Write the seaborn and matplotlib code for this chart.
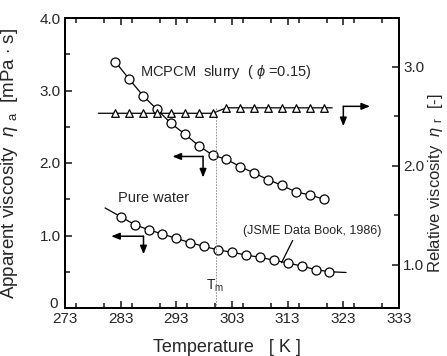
import numpy as np
import pandas as pd
import seaborn as sns
import matplotlib.pyplot as plt
import matplotlib.transforms as mtransforms
from matplotlib.ticker import MultipleLocator, FixedLocator, FixedFormatter

# Valores
temp_slurry = [282, 284.5, 287, 289.5, 292, 294.5, 297, 299.5, 302, 304.5, 307, 309.5, 312, 314.5, 317, 319.5]
eta_slurry = [3.40, 3.16, 2.93, 2.74, 2.55, 2.40, 2.24, 2.11, 2.05, 1.95, 1.86, 1.77, 1.69, 1.60, 1.56, 1.50]

temp_water = [283, 285.5, 288, 290.5, 293, 295.5, 298, 300.5, 303, 305.5, 308, 310.5, 313, 315.5, 318, 320.5]
eta_water = [1.26, 1.15, 1.08, 1.02, 0.96, 0.90, 0.85, 0.80, 0.77, 0.73, 0.70, 0.66, 0.62, 0.58, 0.53, 0.50]
water_fit_ends_T = [280.2, 323.5]
water_fit_ends_eta = [1.38, 0.49]

temp_rel = [282, 284.5, 287, 289.5, 292, 294.5, 297, 299.5, 302, 304.5, 307, 309.5, 312, 314.5, 317, 319.5]
eta_rel = [2.53, 2.53, 2.53, 2.53, 2.53, 2.53, 2.53, 2.53, 2.585, 2.585, 2.585, 2.585, 2.585, 2.585, 2.585, 2.585]
rel_line_ends_T = [279, 321]

T_m = 300.2

x_ticks = [273, 283, 293, 303, 313, 323, 333]
left_ticks = [0, 1.0, 2.0, 3.0, 4.0]
left_tick_labels = ["0", "1.0", "2.0", "3.0", "4.0"]
right_ticks = [1.0, 2.0, 3.0]
right_tick_labels = ["1.0", "2.0", "3.0"]

sns.set_style("ticks")
plt.rcParams['font.family'] = ['Liberation Sans', 'DejaVu Sans']
plt.rcParams['mathtext.fontset'] = 'custom'
plt.rcParams['mathtext.rm'] = 'Liberation Sans'
plt.rcParams['mathtext.it'] = 'Liberation Sans:italic'

fig = plt.figure(figsize=(4.47, 3.56), dpi=100)
ax = fig.add_axes([65/447, 1-308/356, 334/447, 290/356])
ax2 = ax.twinx()

# curva del agua (ajuste) y puntos
water_line = pd.DataFrame({"T": [water_fit_ends_T[0]] + temp_water + [water_fit_ends_T[1]],
                           "eta": [water_fit_ends_eta[0]] + eta_water + [water_fit_ends_eta[1]]})
sns.lineplot(data=water_line, x="T", y="eta", ax=ax, color="black", lw=0.9, zorder=2)
sns.scatterplot(x=temp_water, y=eta_water, ax=ax, marker="o", s=42, facecolor="white",
                edgecolor="black", linewidth=0.9, zorder=3)

# slurry, viscosidad aparente
sns.lineplot(x=temp_slurry, y=eta_slurry, ax=ax, color="black", lw=0.9, zorder=2)
sns.scatterplot(x=temp_slurry, y=eta_slurry, ax=ax, marker="o", s=42, facecolor="white",
                edgecolor="black", linewidth=0.9, zorder=3)

# viscosidad relativa
rel_line = pd.DataFrame({"T": [rel_line_ends_T[0]] + temp_rel + [rel_line_ends_T[1]],
                         "eta": [eta_rel[0]] + eta_rel + [eta_rel[-1]]})
sns.lineplot(data=rel_line, x="T", y="eta", ax=ax2, color="black", lw=0.9, zorder=2)
sns.scatterplot(x=temp_rel, y=eta_rel, ax=ax2, marker="^", s=30, facecolor="white",
                edgecolor="black", linewidth=0.9, zorder=3)

ax2.vlines(T_m, 0.566, eta_rel[-1], colors="gray", linestyles=(0, (2, 1.5)), lw=0.6)

ax.set_xlim(273, 333)
ax.set_ylim(0, 4.0)
ax2.set_ylim(0.566, 3.491)

ax.xaxis.set_major_locator(FixedLocator(x_ticks))
ax.xaxis.set_minor_locator(MultipleLocator(5))
ax.yaxis.set_major_locator(FixedLocator(left_ticks))
ax.yaxis.set_major_formatter(FixedFormatter(left_tick_labels))
ax.yaxis.set_minor_locator(MultipleLocator(0.5))
ax2.yaxis.set_major_locator(FixedLocator(right_ticks))
ax2.yaxis.set_major_formatter(FixedFormatter(right_tick_labels))
ax2.yaxis.set_minor_locator(FixedLocator([1.5, 2.5]))

ax.tick_params(axis="x", which="both", direction="in", top=True, labelsize=11, pad=3)
ax.tick_params(axis="y", which="both", direction="in", right=False, labelsize=11, pad=3)
ax2.tick_params(axis="y", which="both", direction="in", labelsize=11, pad=3)
for a in (ax, ax2):
    a.tick_params(which="major", length=5, width=1.2)
    a.tick_params(which="minor", length=3.5, width=1.2)
    for s in a.spines.values():
        s.set_linewidth(1.4)
        s.set_color("black")

# el "0" va un poco mas arriba, como en el original
zero_lbl = ax.get_yticklabels()[0]
zero_lbl.set_transform(zero_lbl.get_transform() +
                       mtransforms.ScaledTranslation(-2/72, 4/72, fig.dpi_scale_trans))

ax.set_xlabel("Temperature   [ K ]", fontsize=13)
ax.xaxis.set_label_coords(0.485, -0.107)
ax.set_ylabel(r"Apparent viscosity  $\it{\eta}$ $_{\rm a}$  [mPa $\cdot$ s]", fontsize=13.5)
ax.yaxis.set_label_coords(-0.135, 0.5)
ax2.set_ylabel(r"Relative viscosity  $\it{\eta}$ $_{\rm r}$  [-]", fontsize=12)
ax2.yaxis.set_label_coords(1.082, 0.43)

# textos
ax.text(286.4, 3.25, r"MCPCM  slurry  ( $\it{\phi}$ =0.15)", fontsize=10.5, va="center")
ax.text(282.5, 1.52, "Pure water", fontsize=10.5, va="center")
ax.text(300.0, 0.30, r"T$_{\rm m}$", fontsize=10, ha="center", va="center")
ax.annotate("(JSME Data Book, 1986)", xy=(311.9, 0.625), xytext=(305.0, 1.06),
            fontsize=9, va="center",
            arrowprops=dict(arrowstyle="-", color="black", lw=0.9, shrinkA=0, shrinkB=0,
                            relpos=(0.37, 0)))

# flechas en L
def l_arrow(a, corner, horiz_end, vert_end):
    kw = dict(arrowstyle="-|>,head_length=0.5,head_width=0.2", color="black", lw=1.1,
              shrinkA=0, shrinkB=0)
    a.annotate("", xy=(horiz_end, corner[1]), xytext=corner, arrowprops=kw)
    a.annotate("", xy=(corner[0], vert_end), xytext=corner, arrowprops=kw)

l_arrow(ax, (297.8, 2.09), 292.3, 1.80)
l_arrow(ax, (287.1, 0.99), 281.3, 0.74)
l_arrow(ax2, (323.0, 2.60), 327.8, 2.40)

fig.savefig("out.png", dpi=100)
